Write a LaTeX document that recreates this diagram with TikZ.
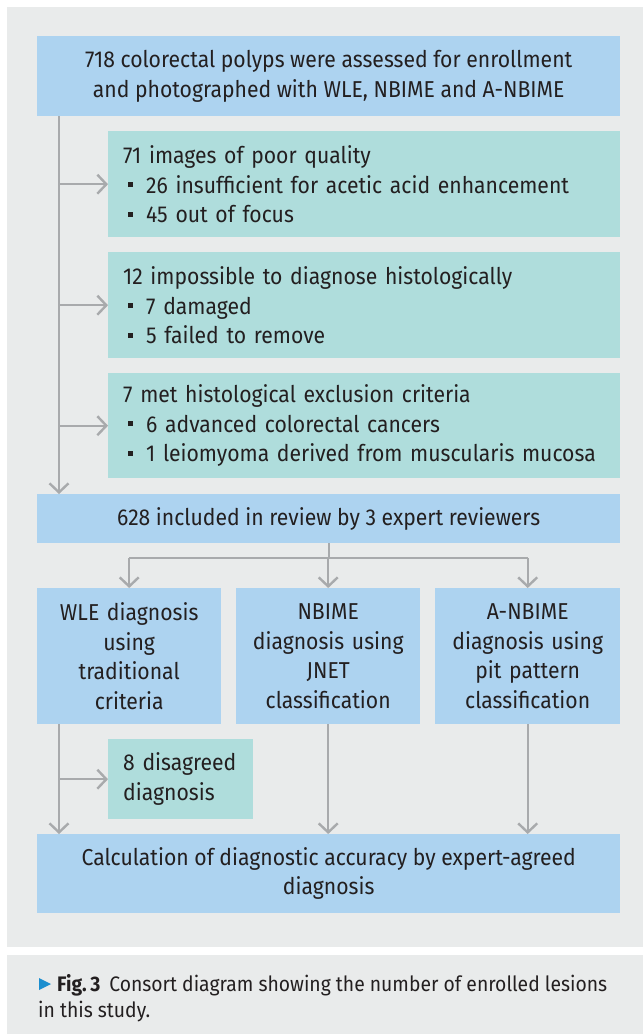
\documentclass[tikz,border=0pt]{standalone}
\usepackage{fontspec}
\setmainfont[FakeStretch=0.92]{Fira Sans}
\usetikzlibrary{arrows.meta,positioning}
\definecolor{PanelClr}{HTML}{E9EBEB}
\definecolor{BlueClr}{HTML}{ADD3F0}
\definecolor{GreenClr}{HTML}{AFDDDC}
\definecolor{LineClr}{HTML}{A8AAAC}
\definecolor{TextClr}{HTML}{231F20}
\definecolor{TriClr}{HTML}{1B8ECF}
\newcommand{\sqitem}{\hspace*{5pt}\rule[6pt]{5pt}{5pt}\hspace{13pt}}

\begin{document}
\begin{tikzpicture}[x=1pt,y=-1pt,
  box/.style={anchor=north west,inner sep=0pt,text=TextClr,font=\fontsize{23}{29.5}\selectfont},
  mainbox/.style={box,fill=BlueClr,align=center},
  exbox/.style={box,fill=GreenClr,align=left,inner xsep=15pt},
  flow/.style={draw=LineClr,line width=2.4pt,-{Straight Barb[length=9pt,width=19pt,line width=2.4pt]}}]
\useasboundingbox (0,0) rectangle (643,1034);
\fill[white] (0,0) rectangle (643,1034);
\fill[PanelClr] (7,7) rectangle (643,947);
\fill[PanelClr] (7,955) rectangle (643,1034);

\node[mainbox,minimum width=583pt,minimum height=80pt] (top) at (37,36)
  {718 colorectal polyps were assessed for enrollment\\and photographed with WLE, NBIME and A-NBIME};
\node[exbox,text width=482pt,minimum height=106pt] (poor) at (108,131)
  {71 images of poor quality\\\sqitem 26 insufficient for acetic acid enhancement\\\sqitem 45 out of focus};
\node[exbox,text width=482pt,minimum height=106pt] (histo) at (108,252)
  {12 impossible to diagnose histologically\\\sqitem 7 damaged\\\sqitem 5 failed to remove};
\node[exbox,text width=482pt,minimum height=105pt] (excl) at (108,373)
  {7 met histological exclusion criteria\\\sqitem 6 advanced colorectal cancers\\\sqitem 1 leiomyoma derived from muscularis mucosa};
\node[mainbox,minimum width=583pt,minimum height=49pt] (incl) at (37,494)
  {628 included in review by 3 expert reviewers};

\node[mainbox,text width=184pt,minimum height=136pt] (wle) at (37,588)
  {WLE diagnosis\\using\\traditional\\criteria};
\node[mainbox,text width=184pt,minimum height=136pt] (nbi) at (236,588)
  {NBIME\\diagnosis using\\JNET\\classification};
\node[mainbox,text width=185pt,minimum height=136pt] (anbi) at (435,588)
  {A-NBIME\\diagnosis using\\pit pattern\\classification};

\node[exbox,text width=115pt,minimum height=80pt] (disagr) at (108,739)
  {8 disagreed\\diagnosis};
\node[mainbox,minimum width=583pt,minimum height=79pt] (calc) at (37,834)
  {Calculation of diagnostic accuracy by expert-agreed\\diagnosis};

\coordinate (trunk) at (59,0);
\coordinate (split) at (0,558);

\draw[flow] (trunk |- top.south) -- (trunk |- incl.north);
\draw[flow] (trunk |- poor.west) -- (poor.west);
\draw[flow] (trunk |- histo.west) -- (histo.west);
\draw[flow] (trunk |- excl.west) -- (excl.west);

\draw[draw=LineClr,line width=2.4pt] (incl.south) -- (incl.south |- split);
\draw[draw=LineClr,line width=2.4pt] (wle.north |- split) -- (anbi.north |- split);
\draw[flow] (wle.north |- split) -- (wle.north);
\draw[flow] (nbi.north |- split) -- (nbi.north);
\draw[flow] (anbi.north |- split) -- (anbi.north);

\draw[flow] (trunk |- wle.south) -- (trunk |- calc.north);
\draw[flow] (trunk |- disagr.west) -- (disagr.west);
\draw[flow] (nbi.south) -- (nbi.south |- calc.north);
\draw[flow] (anbi.south) -- (anbi.south |- calc.north);

\fill[TriClr] (39,978) -- (51,984) -- (39,990) -- cycle;
\node[anchor=base west,inner sep=0pt,align=left,text=TextClr,font=\fontsize{21}{26}\selectfont] (caption) at (38,1017)
  {\hspace*{19pt}\textbf{Fig.\,3}\hspace{9pt}Consort diagram showing the number of enrolled lesions\\in this study.};
\end{tikzpicture}
\end{document}
